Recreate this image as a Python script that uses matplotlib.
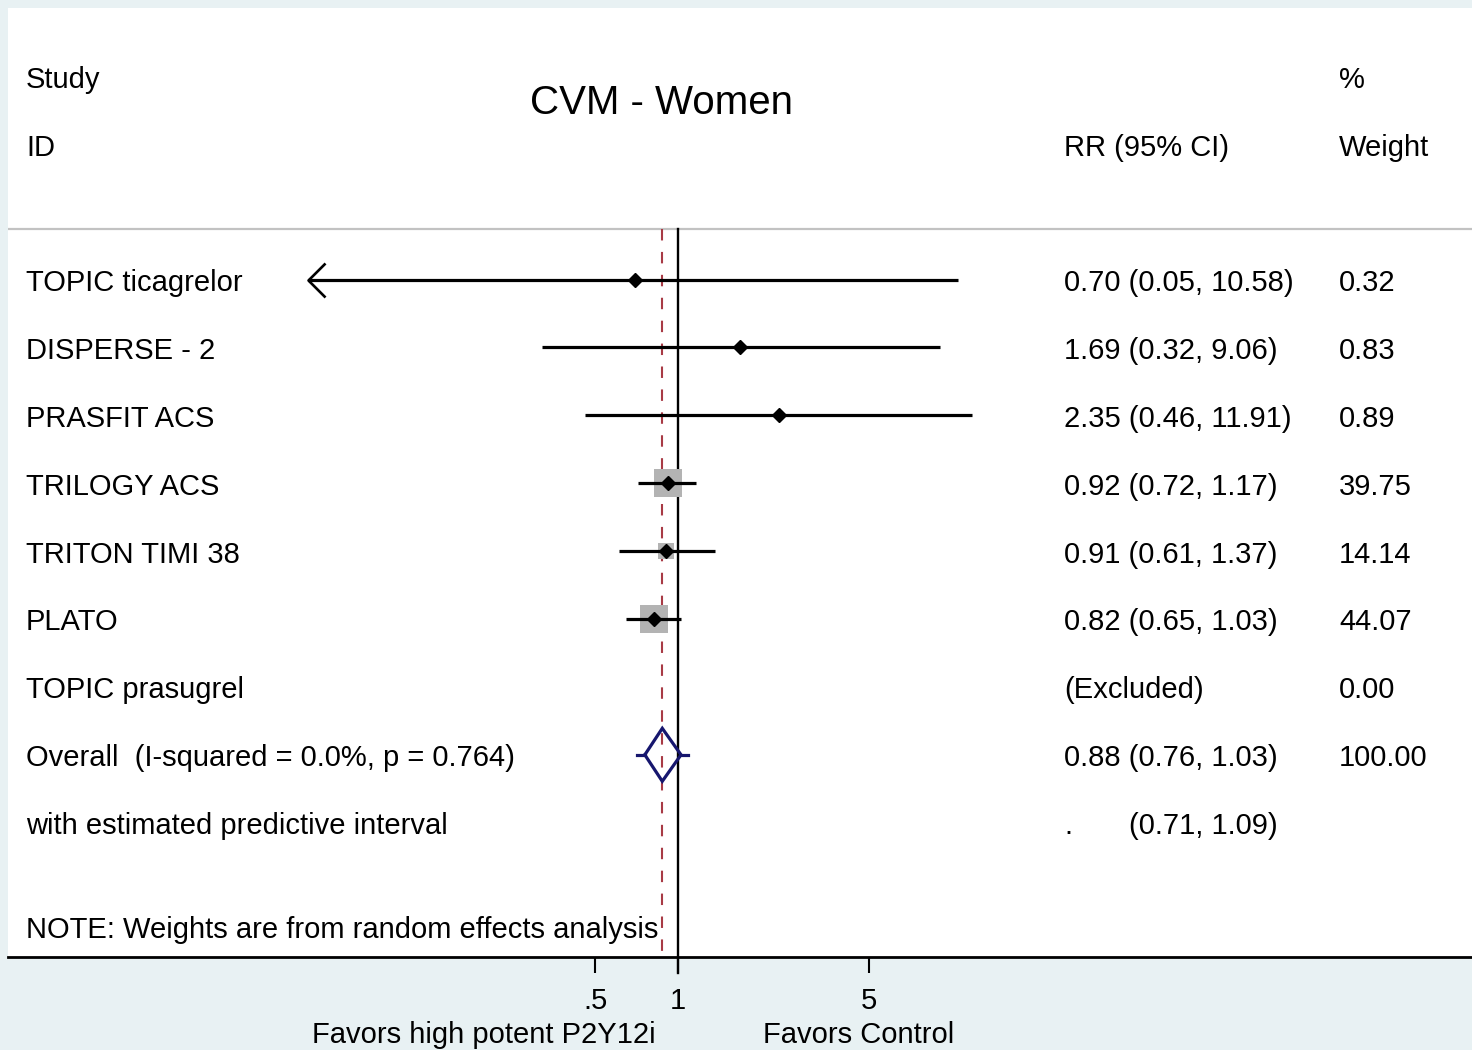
import numpy as np
import matplotlib
matplotlib.use("Agg")
import matplotlib.pyplot as plt
from matplotlib.path import Path
from matplotlib.transforms import blended_transform_factory

plt.rcParams['font.family'] = ['Liberation Sans', 'DejaVu Sans']

# ---- data -------------------------------------------------------------
title = "CVM - Women"
studies = ["TOPIC ticagrelor", "DISPERSE - 2", "PRASFIT ACS", "TRILOGY ACS",
           "TRITON TIMI 38", "PLATO", "TOPIC prasugrel"]
rr = [0.70, 1.69, 2.35, 0.92, 0.91, 0.82, np.nan]
ci_lo = [0.05, 0.32, 0.46, 0.72, 0.61, 0.65, np.nan]
ci_hi = [10.58, 9.06, 11.91, 1.17, 1.37, 1.03, np.nan]
weights = [0.32, 0.83, 0.89, 39.75, 14.14, 44.07, 0.00]
truncated_left = [True, False, False, False, False, False, False]

overall_label = "Overall  (I-squared = 0.0%, p = 0.764)"
overall_rr, overall_lo, overall_hi = 0.88, 0.76, 1.03
pred_label = "with estimated predictive interval"
pred_lo, pred_hi = 0.71, 1.09
note = "NOTE: Weights are from random effects analysis"

xticks = [0.5, 1, 5]
xticklabels = [".5", "1", "5"]
favours_left = "Favors high potent P2Y12i"
favours_right = "Favors Control"

# ---- layout -----------------------------------------------------------
W, H, DPI = 1472, 1050, 100
BG = '#e8f1f3'
NAVY = '#16166e'
RED = '#a83a45'
BOX = '#b3b3b3'
FS = 21
LW = 2.3

fig = plt.figure(figsize=(W / DPI, H / DPI), dpi=DPI, facecolor=BG)
# plot panel in pixels: x 8..1472, y 8..957
pl, pr, pt, pb = 8, 1472, 8, 957
ax = fig.add_axes([pl / W, 1 - pb / H, (pr - pl) / W, (pb - pt) / H])
ax.set_facecolor('white')

# log axis: 1 at px 677.5, 274 px per decade
px_one, px_dec = 677.5, 274.0
ax.set_xscale('log')
ax.set_xlim(10 ** ((pl - px_one) / px_dec), 10 ** ((pr - px_one) / px_dec))

row0, row_h = 279.5, 67.9
def yrow(py):
    return (py - row0) / row_h
ax.set_ylim(yrow(pb), yrow(pt))
txt_dy = 3.5 / row_h   # text sits slightly below the mark centre

def fx(px):
    return (px - pl) / (pr - pl)

tr = blended_transform_factory(ax.transAxes, ax.transData)

def label(px, y, s, **kw):
    ax.text(fx(px), y + txt_dy, s, transform=tr, fontsize=kw.pop('fontsize', FS),
            va='center', **kw)

for s in ['top', 'right', 'left']:
    ax.spines[s].set_visible(False)
ax.spines['bottom'].set_linewidth(2)
ax.set_yticks([])
ax.set_xticks(xticks, labels=xticklabels)
ax.minorticks_off()
ax.tick_params(axis='x', length=11.5, width=1.5, pad=10, labelsize=FS)

# headers
label(26, yrow(77), "Study")
label(26, yrow(145), "ID")
label(661.5, yrow(100), title, fontsize=29, ha='center')
label(1064, yrow(145), "RR (95% CI)")
label(1339, yrow(77), "%")
label(1339, yrow(145), "Weight")
sep_y = yrow(229)
ax.axhline(sep_y, color='#c2c2c2', lw=1.6)

# reference lines
y_bot = yrow(pb)
y_tick_end = yrow(pb + 16)
ax.plot([1, 1], [sep_y, y_tick_end], color='black', lw=1.7, zorder=2,
        clip_on=False)
ax.plot([overall_rr, overall_rr], [sep_y, y_bot], color=RED, lw=1.5,
        dashes=(5.5, 5.5), zorder=2)

# open arrowhead marker (tip at origin, pointing left)
arrow_marker = Path([(1, 1), (0, 0), (1, -1)],
                    [Path.MOVETO, Path.LINETO, Path.LINETO])
x_floor = 10 ** ((308 - px_one) / px_dec)

for i, name in enumerate(studies):
    y = i
    label(26, y, name)
    label(1339, y, f"{weights[i]:.2f}")
    if np.isnan(rr[i]):
        label(1064, y, "(Excluded)")
        continue
    label(1064, y, f"{rr[i]:.2f} ({ci_lo[i]:.2f}, {ci_hi[i]:.2f})")
    side_pt = 4.3 * np.sqrt(weights[i]) * 0.72
    ax.scatter([rr[i]], [y], marker='s', s=side_pt ** 2, color=BOX,
               linewidths=0, zorder=3)
    left = x_floor if truncated_left[i] else ci_lo[i]
    ax.plot([left, ci_hi[i]], [y, y], color='black', lw=LW, zorder=4,
            solid_capstyle='butt')
    if truncated_left[i]:
        ax.plot([left], [y], marker=arrow_marker, markersize=24.5,
                markerfacecolor='none', markeredgecolor='black',
                markeredgewidth=1.9, zorder=4)
    ax.plot([rr[i]], [y], marker='D', markersize=7, color='black', zorder=5)

# overall diamond and predictive interval
yo = 7
h = 0.39
label(26, yo, overall_label)
label(1064, yo, f"{overall_rr:.2f} ({overall_lo:.2f}, {overall_hi:.2f})")
label(1339, yo, f"{100:.2f}")
ax.plot([overall_lo, overall_rr, overall_hi, overall_rr, overall_lo],
        [yo, yo - h, yo, yo + h, yo], color=NAVY, lw=LW, zorder=5,
        solid_joinstyle='miter')
ax.plot([pred_lo, overall_lo], [yo, yo], color=NAVY, lw=LW, zorder=5)
ax.plot([overall_hi, pred_hi], [yo, yo], color=NAVY, lw=LW, zorder=5)

yp = 8
label(26, yp, pred_label)
label(1064, yp, ".")
label(1129, yp, f"({pred_lo:.2f}, {pred_hi:.2f})")

label(26, yrow(926), note)

# favours labels under the axis
fig.text(656 / W, 1 - 1035 / H, favours_left, fontsize=FS, ha='right', va='center')
fig.text(763 / W, 1 - 1035 / H, favours_right, fontsize=FS, ha='left', va='center')

fig.savefig("out.png", dpi=DPI, facecolor=BG)
